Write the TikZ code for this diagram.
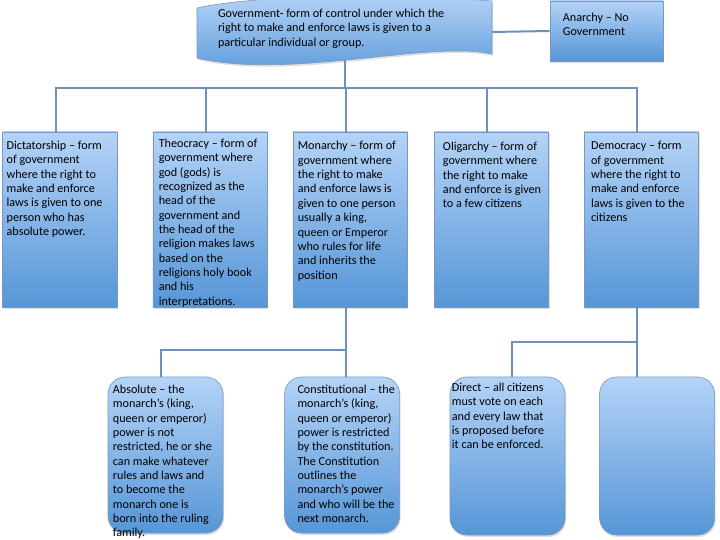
\documentclass[tikz,border=0pt]{standalone}
\usepackage{fontspec}
\setmainfont{Carlito}
\usetikzlibrary{positioning, shadows}
\definecolor{boxtop}{RGB}{180,211,247}
\definecolor{boxbot}{RGB}{86,150,215}
\definecolor{boxline}{RGB}{120,152,194}
\definecolor{wirecol}{RGB}{110,144,188}
\tikzset{
    govbox/.style={
        rectangle, draw=boxline, line width=0.6bp,
        top color=boxtop, bottom color=boxbot,
        drop shadow={opacity=0.25, shadow xshift=1bp, shadow yshift=-2bp},
        minimum width=114.5bp, minimum height=175bp, inner sep=0pt
    },
    subbox/.style={
        govbox, rounded corners=17bp,
        minimum width=115bp, minimum height=156bp
    },
    boxtext/.style={align=left, inner sep=0pt, font=\fontsize{12.2}{14.4}\selectfont},
    wire/.style={draw=wirecol, line width=2bp}
}
\begin{document}
\begin{tikzpicture}[x=1bp, y=-1bp]
\path[use as bounding box, fill=white] (0,0) rectangle (720,540);

% Government banner
\shade[top color=boxtop, bottom color=boxbot, draw=boxline, line width=0.6bp,
    drop shadow={opacity=0.25, shadow xshift=1bp, shadow yshift=-2bp}]
    (197,8) .. controls (260,-6) and (400,-6) .. (492,1) -- (492,54)
    .. controls (430,40) and (290,80) .. (197,58) -- cycle;
\node[minimum width=295bp, minimum height=56bp, inner sep=0pt] (gov) at (344.5,32) {};
\node[boxtext, below right=5bp and 21bp of gov.north west] (govtxt)
    {Government- form of control under which the\\right to make and enforce laws is given to a\\particular individual or group.};

\node[govbox, minimum width=113bp, minimum height=60bp] (anarchy) at (606.5,31) {};
\node[boxtext, below right=12bp and 13bp of anarchy.north west] (anarchytxt) {Anarchy – No\\Government};

% Forms of government
\node[govbox] (dict) at (60,219.5) {};
\node[govbox, right=35bp of dict] (theo) {};
\node[govbox, right=25bp of theo] (mon) {};
\node[govbox, right=26bp of mon] (olig) {};
\node[govbox, right=35bp of olig] (demo) {};

\node[boxtext, below right=9bp and 4bp of dict.north west] (dicttxt)
    {Dictatorship – form\\of government\\where the right to\\make and enforce\\laws is given to one\\person who has\\absolute power.};
\node[boxtext, below right=7bp and 6bp of theo.north west] (theotxt)
    {Theocracy – form of\\government where\\god (gods) is\\recognized as the\\head of the\\government and\\the head of the\\religion makes laws\\based on the\\religions holy book\\and his\\interpretations.};
\node[boxtext, below right=9.6bp and 5bp of mon.north west] (montxt)
    {Monarchy – form of\\government where\\the right to make\\and enforce laws is\\given to one person\\usually a king,\\queen or Emperor\\who rules for life\\and inherits the\\position};
\node[boxtext, below right=10bp and 9bp of olig.north west] (oligtxt)
    {Oligarchy – form of\\government where\\the right to make\\and enforce is given\\to a few citizens};
\node[boxtext, below right=9.6bp and 7bp of demo.north west] (demotxt)
    {Democracy – form\\of government\\where the right to\\make and enforce\\laws is given to the\\citizens};

% Kinds of monarchy and democracy
\node[subbox] (abs) at (165.5,455) {};
\node[subbox, right=61bp of abs] (const) {};
\node[subbox, minimum height=158bp] (direct) at (507.5,456) {};
\node[subbox, minimum height=158bp, right=34bp of direct] (rep) {};

\node[boxtext, below right=8bp and 5bp of abs.north west] (abstxt)
    {Absolute – the\\monarch’s (king,\\queen or emperor)\\power is not\\restricted, he or she\\can make whatever\\rules and laws and\\to become the\\monarch one is\\born into the ruling\\family.};
\node[boxtext, below right=8bp and 13bp of const.north west] (consttxt)
    {Constitutional – the\\monarch’s (king,\\queen or emperor)\\power is restricted\\by the constitution.\\The Constitution\\outlines the\\monarch’s power\\and who will be the\\next monarch.};
\node[boxtext, below right=6bp and 2bp of direct.north west] (directtxt)
    {Direct – all citizens\\must vote on each\\and every law that\\is proposed before\\it can be enforced.};

% Connectors
\coordinate (bus) at (0,88);
\coordinate (monbus) at (0,350);
\coordinate (dembus) at (0,342);
\draw[wire] (gov.south) -- (gov.south |- bus);
\draw[wire] (gov.east) -- (anarchy.west);
\draw[wire] ([xshift=-4bp]dict.north) -- ([xshift=-4bp]dict.north |- bus)
    -- ([xshift=-4bp]demo.north |- bus) -- ([xshift=-4bp]demo.north);
\foreach \b in {theo, mon, olig}
    \draw[wire] ([xshift=-4bp]\b.north) -- ([xshift=-4bp]\b.north |- bus);

\draw[wire] ([xshift=-4bp]mon.south) -- ([xshift=-4bp]mon.south |- const.north);
\draw[wire] ([xshift=-4bp]mon.south |- monbus) -| ([xshift=-4.5bp]abs.north);
\draw[wire] ([xshift=-4bp]demo.south) -- ([xshift=-4bp]demo.south |- rep.north);
\draw[wire] ([xshift=-4bp]demo.south |- dembus) -| ([xshift=4.5bp]direct.north);

\end{tikzpicture}
\end{document}
